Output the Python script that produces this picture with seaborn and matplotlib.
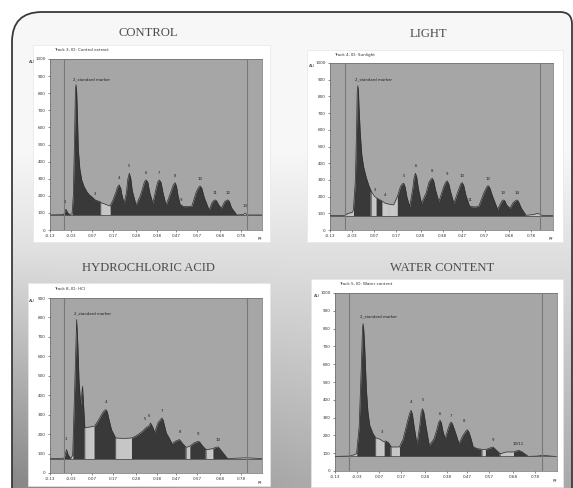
import numpy as np
import matplotlib
matplotlib.use("Agg")
import matplotlib.pyplot as plt
import seaborn as sns
from matplotlib.path import Path
from matplotlib.patches import PathPatch, Rectangle

# ---------------- data ----------------
x_tick_labels = ["-0.13", "-0.03", "0.07", "0.17", "0.28", "0.38", "0.47", "0.57", "0.68", "0.78"]
panel_titles = ["CONTROL", "LIGHT", "HYDROCHLORIC ACID", "WATER CONTENT"]
track_texts = ["Track 3, ID: Control extract", "Track 4, ID: Sunlight",
               "Track 8, ID: HCl", "Track 5, ID: Water content"]

ctrl_rf = [-0.13, -0.065, -0.06, -0.054, -0.045, -0.035, -0.025, -0.019, -0.012, -0.009, -0.006, -0.003,
           0.000, 0.005, 0.012, 0.021, 0.032, 0.045, 0.058, 0.069, 0.085, 0.098, 0.108, 0.112, 0.135,
           0.156, 0.170, 0.185, 0.191, 0.199, 0.207, 0.212, 0.223, 0.234, 0.241, 0.248, 0.255, 0.262,
           0.280, 0.300, 0.310, 0.320, 0.328, 0.336, 0.345, 0.360, 0.375, 0.383, 0.391, 0.399, 0.408,
           0.423, 0.445, 0.458, 0.466, 0.473, 0.480, 0.490, 0.506, 0.530, 0.546, 0.566, 0.577, 0.585,
           0.593, 0.605, 0.628, 0.642, 0.650, 0.657, 0.664, 0.672, 0.686, 0.702, 0.710, 0.717, 0.724,
           0.735, 0.760, 0.790, 0.800, 0.810, 0.88]
ctrl_au = [88, 90, 105, 121, 100, 90, 95, 200, 600, 820, 850, 810,
           700, 470, 360, 293, 255, 225, 205, 195, 176, 170, 166, 160, 150,
           140, 175, 225, 250, 264, 245, 210, 156, 220, 300, 332, 300, 230,
           146, 200, 240, 283, 293, 280, 220, 156, 240, 280, 293, 278, 220,
           146, 220, 265, 277, 255, 200, 150, 137, 137, 140, 220, 248, 258,
           245, 190, 117, 160, 172, 176, 170, 150, 127, 165, 173, 176, 168,
           130, 88, 90, 98, 88, 88]
ctrl_fills = [(-0.065, -0.035), (-0.025, 0.112), (0.156, 0.760)]
ctrl_peak_rf = [-0.058, -0.006, 0.085, 0.199, 0.248, 0.328, 0.391, 0.466, 0.492, 0.585, 0.657, 0.717, 0.800]
ctrl_peak_au = [150, 870, 200, 290, 360, 320, 320, 305, 165, 285, 205, 205, 128]
ctrl_peak_lbl = ["1", "2_standard marker", "3", "4", "5", "6", "7", "8", "9", "10", "11", "12", "13"]

light_rf = [-0.13, -0.062, -0.047, -0.030, -0.024, -0.015, -0.009, -0.007, -0.004, -0.001, 0.001, 0.007,
            0.014, 0.022, 0.033, 0.045, 0.057, 0.065, 0.072, 0.078, 0.090, 0.105, 0.120, 0.136, 0.158,
            0.175, 0.189, 0.197, 0.204, 0.211, 0.218, 0.231, 0.245, 0.251, 0.257, 0.263, 0.270, 0.284,
            0.305, 0.318, 0.326, 0.333, 0.340, 0.348, 0.363, 0.385, 0.394, 0.401, 0.408, 0.416, 0.431,
            0.452, 0.462, 0.469, 0.476, 0.485, 0.500, 0.507, 0.530, 0.545, 0.566, 0.579, 0.586, 0.593,
            0.607, 0.629, 0.643, 0.650, 0.656, 0.662, 0.670, 0.685, 0.700, 0.711, 0.717, 0.723, 0.737,
            0.758, 0.790, 0.811, 0.830, 0.88]
light_au = [86, 88, 100, 105, 120, 300, 650, 820, 864, 830, 750, 580,
            450, 380, 320, 270, 230, 215, 200, 195, 185, 174, 160, 155, 150,
            200, 260, 275, 280, 255, 200, 140, 250, 315, 340, 315, 250, 160,
            220, 285, 303, 310, 292, 240, 170, 260, 286, 294, 276, 230, 160,
            240, 276, 284, 265, 210, 150, 140, 138, 145, 220, 256, 266, 255,
            200, 124, 160, 176, 180, 174, 150, 130, 165, 176, 180, 172, 130,
            88, 92, 100, 88, 86]
light_fills = [(-0.024, 0.057), (0.078, 0.115), (0.123, 0.150), (0.162, 0.758)]
light_peak_rf = [-0.004, 0.072, 0.117, 0.204, 0.257, 0.333, 0.401, 0.469, 0.503, 0.586, 0.656, 0.717]
light_peak_au = [890, 230, 200, 310, 370, 340, 324, 314, 170, 296, 210, 210]
light_peak_lbl = ["2_standard marker", "3", "4", "5", "6", "8", "9", "10", "11", "12", "13", "14"]

hcl_rf = [-0.13, -0.064, -0.058, -0.051, -0.044, -0.032, -0.022, -0.012, -0.003, 0.003, 0.008, 0.016,
          0.025, 0.030, 0.036, 0.055, 0.079, 0.084, 0.100, 0.118, 0.128, 0.136, 0.143, 0.150, 0.163,
          0.183, 0.220, 0.258, 0.275, 0.289, 0.310, 0.329, 0.340, 0.349, 0.360, 0.368, 0.385, 0.397,
          0.403, 0.409, 0.414, 0.424, 0.438, 0.451, 0.470, 0.487, 0.503, 0.519, 0.535, 0.557, 0.571,
          0.577, 0.584, 0.596, 0.614, 0.645, 0.660, 0.672, 0.690, 0.716, 0.75, 0.81, 0.88]
hcl_au = [74, 76, 95, 120, 95, 74, 90, 450, 789, 650, 480, 350,
          446, 350, 232, 236, 240, 244, 270, 305, 320, 326, 315, 280, 223,
          180, 178, 180, 188, 197, 214, 235, 240, 257, 235, 209, 260, 275,
          283, 272, 250, 206, 180, 151, 165, 172, 150, 132, 137, 155, 161,
          163, 158, 140, 120, 125, 132, 134, 110, 74, 76, 78, 74]
hcl_fills = [(-0.064, -0.032), (-0.022, 0.036), (0.079, 0.183), (0.258, 0.519), (0.535, 0.614), (0.645, 0.716)]
hcl_peak_rf = [-0.056, -0.003, 0.136, 0.322, 0.343, 0.403, 0.487, 0.577, 0.672]
hcl_peak_au = [165, 810, 355, 265, 285, 310, 200, 190, 160]
hcl_peak_lbl = ["1", "2_standard marker", "4", "5", "6", "7", "8", "9", "10"]

water_rf = [-0.13, -0.067, -0.045, -0.032, -0.020, -0.010, -0.005, -0.002, 0.001, 0.005, 0.013, 0.020,
            0.028, 0.043, 0.055, 0.075, 0.093, 0.100, 0.113, 0.126, 0.145, 0.163, 0.180, 0.200, 0.210,
            0.216, 0.222, 0.230, 0.243, 0.256, 0.262, 0.268, 0.274, 0.284, 0.299, 0.321, 0.335, 0.342,
            0.348, 0.354, 0.360, 0.371, 0.385, 0.393, 0.399, 0.405, 0.417, 0.434, 0.452, 0.466, 0.472,
            0.478, 0.487, 0.499, 0.520, 0.539, 0.554, 0.572, 0.589, 0.606, 0.622, 0.650, 0.682, 0.695,
            0.705, 0.718, 0.750, 0.790, 0.814, 0.87]
water_au = [82, 84, 90, 97, 250, 600, 800, 828, 790, 700, 453, 330,
            257, 210, 187, 178, 163, 169, 160, 135, 135, 135, 180, 280, 325,
            341, 320, 250, 150, 260, 330, 350, 330, 250, 144, 182, 240, 275,
            285, 270, 230, 182, 240, 268, 275, 262, 220, 154, 200, 225, 232,
            222, 190, 135, 125, 122, 120, 128, 135, 115, 97, 107, 107, 112,
            116, 110, 82, 84, 88, 82]
water_fills = [(-0.032, 0.055), (0.093, 0.126), (0.163, 0.539), (0.554, 0.622), (0.682, 0.750)]
water_peak_rf = [-0.002, 0.083, 0.216, 0.268, 0.348, 0.399, 0.456, 0.589, 0.705]
water_peak_au = [855, 210, 375, 385, 310, 300, 270, 165, 140]
water_peak_lbl = ["2_standard marker", "3", "4", "5", "6", "7", "8", "9", "10/11"]

# ---------------- style ----------------
sns.set_style("white")
plt.rcParams["font.family"] = ["DejaVu Sans"]

W, H = 573, 488
fig = plt.figure(figsize=(W / 100, H / 100), dpi=100)

# background layer in pixel coordinates
bg = fig.add_axes([0, 0, 1, 1])
bg.set_xlim(0, W)
bg.set_ylim(H, 0)
bg.axis("off")
bg.set_zorder(-5)

yy, xx = np.mgrid[0:H, 0:W]
g = (0.97 - 0.30 * np.clip((yy - 150) / 330, 0, 1)
     - 0.14 * np.clip((yy - 250) / 230, 0, 1) * np.clip(1 - xx / 300, 0, 1))
img = np.dstack([g, g, g])
im = bg.imshow(img, extent=(0, W, H, 0), aspect="auto", interpolation="bilinear")

verts = [(12, 486), (12, 42), (12, 12), (42, 12), (560, 12), (572, 12), (572, 24),
         (572, 500), (12, 500), (12, 486)]
codes = [Path.MOVETO, Path.LINETO, Path.CURVE3, Path.CURVE3, Path.LINETO, Path.CURVE3, Path.CURVE3,
         Path.LINETO, Path.LINETO, Path.CLOSEPOLY]
frame = PathPatch(Path(verts, codes), facecolor="none", edgecolor="#3a3a3a", lw=1.3)
bg.add_patch(frame)
im.set_clip_path(frame)

white_boxes = [(33, 45, 237, 197), (307, 50, 256, 192), (28, 283, 242, 203), (311, 279, 252, 208)]
for (bx, by, bw, bh) in white_boxes:
    bg.add_patch(Rectangle((bx, by), bw, bh, facecolor="white", edgecolor="#e6e6e6", lw=0.5))

title_pos = [(148, 33), (428, 34), (148, 268), (442, 268)]
for t, (tx, ty) in zip(panel_titles, title_pos):
    bg.text(tx, ty, t, ha="center", va="center", fontsize=9.1, color="#4d4d4d",
            family=["Liberation Serif", "DejaVu Serif"])

axes_px = [(50, 59, 262, 230), (330, 63, 553, 230), (50, 298, 262, 473), (335, 293, 557, 471)]

panels = [
    dict(rf=ctrl_rf, au=ctrl_au, fills=ctrl_fills, prf=ctrl_peak_rf, pau=ctrl_peak_au,
         plbl=ctrl_peak_lbl, ymax=1000, base=88, vl=-0.063, vr=0.81),
    dict(rf=light_rf, au=light_au, fills=light_fills, prf=light_peak_rf, pau=light_peak_au,
         plbl=light_peak_lbl, ymax=1000, base=86, vl=-0.062, vr=0.82),
    dict(rf=hcl_rf, au=hcl_au, fills=hcl_fills, prf=hcl_peak_rf, pau=hcl_peak_au,
         plbl=hcl_peak_lbl, ymax=900, base=74, vl=-0.064, vr=0.81),
    dict(rf=water_rf, au=water_au, fills=water_fills, prf=water_peak_rf, pau=water_peak_au,
         plbl=water_peak_lbl, ymax=1000, base=82, vl=-0.067, vr=0.814),
]

plot_bg = "#a6a6a6"
dark = "#393939"
light_fill = "#c6c6c6"
xticks = [float(v) for v in x_tick_labels]

for p, (l, t, r, b), track in zip(panels, axes_px, track_texts):
    ax = fig.add_axes([l / W, 1 - b / H, (r - l) / W, (b - t) / H])
    ax.set_facecolor(plot_bg)
    x = np.array(p["rf"])
    y = np.array(p["au"], dtype=float)
    base = p["base"]
    inside = (x >= p["vl"]) & (x <= p["vr"])
    ax.fill_between(x, base, y, where=inside & (y >= base), color=light_fill, lw=0, interpolate=True, zorder=1)
    for a, c in p["fills"]:
        m = (x >= a - 1e-9) & (x <= c + 1e-9)
        ax.fill_between(x[m], base, y[m], color=dark, lw=0, zorder=2)
        for e in (a, c):
            ax.plot([e, e], [base, np.interp(e, x, y)], color="#d8d8d8", lw=0.35, zorder=3)
    sns.lineplot(x=x, y=y, ax=ax, color="#2e2e2e", lw=0.5, sort=False, estimator=None, zorder=4)
    ax.axhline(base, color="#505050", lw=0.6, zorder=5)
    ax.axvline(p["vl"], color="#787878", lw=0.8, zorder=5)
    ax.axvline(p["vr"], color="#787878", lw=0.8, zorder=5)
    for px_, py_, lb in zip(p["prf"], p["pau"], p["plbl"]):
        ha = "left" if "_" in lb else "center"
        xx_ = px_ - 0.015 if "_" in lb else px_
        ax.text(xx_, py_, lb, fontsize=2.8, color="#1e1e1e", ha=ha, va="bottom", zorder=6)
    ax.set_xlim(-0.13, 0.88)
    ax.set_ylim(0, p["ymax"])
    ax.set_xticks(xticks)
    ax.set_xticklabels(x_tick_labels)
    ax.set_yticks(np.arange(0, p["ymax"] + 1, 100))
    ax.tick_params(axis="both", labelsize=3, length=1.5, width=0.4, pad=1.5, colors="#333333",
                   bottom=True, left=True)
    for s in ax.spines.values():
        s.set_color("#6a6a6a")
        s.set_linewidth(0.5)
    ax.set_xlabel("")
    ax.set_ylabel("")
    ax.text(-0.07, 0.985, "AU", transform=ax.transAxes, fontsize=3, color="#333333", ha="right", va="center")
    ax.text(0.99, -0.055, "Rf", transform=ax.transAxes, fontsize=3, color="#333333", ha="center", va="center")
    ax.text(0.02, 1.05, track, transform=ax.transAxes, fontsize=3, color="#333333", ha="left", va="center")

fig.savefig("out.png", dpi=100)
